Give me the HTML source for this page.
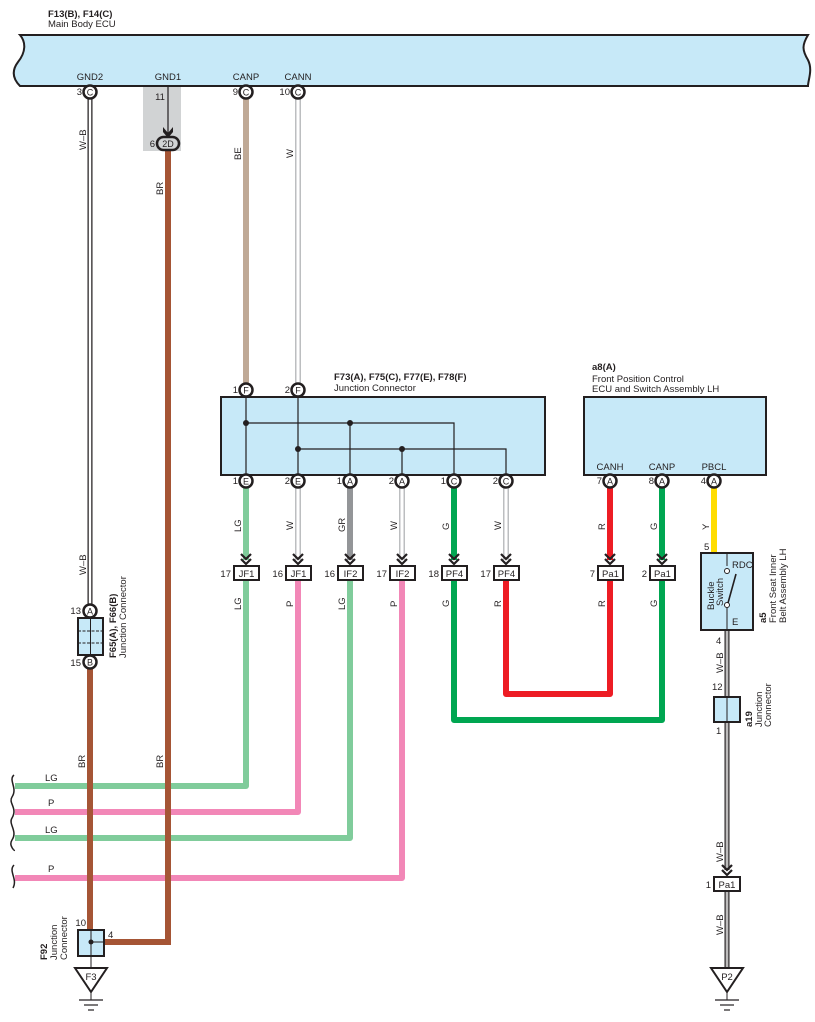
<!DOCTYPE html>
<html><head><meta charset="utf-8"><style>
body{margin:0;background:#fff}
svg{display:block;font-family:"Liberation Sans",Arial,sans-serif}
text{fill:#231f20}
.t{font-size:9.5px}
.b{font-size:9.5px;font-weight:bold}
</style></head><body>
<svg width="815" height="1022" viewBox="0 0 815 1022" xmlns="http://www.w3.org/2000/svg">
<defs>
<g id="chev"><path d="M-5,-9 L0,-4 L5,-9 M-5,-4 L0,1 L5,-4" fill="none" stroke="#231f20" stroke-width="2.2"/></g>
<g id="gnd"><path d="M-16,0 L16,0 L0,24 Z" fill="#fff" stroke="#231f20" stroke-width="2"/><line x1="0" y1="24" x2="0" y2="32" stroke="#231f20"/><line x1="-12" y1="32" x2="12" y2="32" stroke="#231f20" stroke-width="1.2"/><line x1="-7" y1="37" x2="7" y2="37" stroke="#231f20" stroke-width="1.2"/><line x1="-3" y1="42" x2="3" y2="42" stroke="#231f20" stroke-width="1.2"/></g>
</defs>

<text x="48" y="17" class="b">F13(B), F14(C)</text>
<text x="48" y="27" class="t">Main Body ECU</text>

<path d="M20,35 L808,35 C802,45 802,50 808,60 C813,70 808,80 808,86 L20,86 C12,78 12,70 18,62 C26,52 26,42 20,35 Z" fill="#c7e9f8" stroke="#231f20" stroke-width="2"/>
<text x="90" y="80" class="t" text-anchor="middle">GND2</text>
<text x="168" y="80" class="t" text-anchor="middle">GND1</text>
<text x="246" y="80" class="t" text-anchor="middle">CANP</text>
<text x="298" y="80" class="t" text-anchor="middle">CANN</text>

<rect x="143" y="87" width="38" height="64" fill="#d1d3d4"/>
<text x="160" y="100" class="t" text-anchor="middle">11</text>
<line x1="168" y1="87" x2="168" y2="135" stroke="#231f20" stroke-width="1.2"/>
<path d="M163,127 L168,133 L173,127 L173,132 L168,138 L163,132 Z" fill="#231f20"/>

<line x1="90" y1="98" x2="90" y2="604" stroke="#231f20" stroke-width="5"/>
<line x1="90" y1="98" x2="90" y2="604" stroke="#fff" stroke-width="2.5"/>
<text transform="translate(86,150) rotate(-90)" class="t">W–B</text>
<text transform="translate(86,575) rotate(-90)" class="t">W–B</text>
<path d="M168,151 L168,942 L104,942" fill="none" stroke="#a55535" stroke-width="6"/>
<text transform="translate(163,195) rotate(-90)" class="t">BR</text>
<text transform="translate(163,768) rotate(-90)" class="t">BR</text>
<line x1="246" y1="98" x2="246" y2="384" stroke="#bfa996" stroke-width="6"/>
<text transform="translate(241,160) rotate(-90)" class="t">BE</text>
<line x1="298" y1="98" x2="298" y2="384" stroke="#bcbec0" stroke-width="6"/>
<line x1="298" y1="98" x2="298" y2="384" stroke="#fff" stroke-width="3"/>
<text transform="translate(293,158) rotate(-90)" class="t">W</text>

<text x="334" y="380" class="b">F73(A), F75(C), F77(E), F78(F)</text>
<text x="334" y="391" class="t">Junction Connector</text>
<rect x="221" y="397" width="324" height="78" fill="#c7e9f8" stroke="#231f20" stroke-width="2"/>
<g stroke="#231f20" stroke-width="1.2" fill="none">
<path d="M246,397 L246,475 M246,423 L454,423 L454,475 M350,423 L350,475"/>
<path d="M298,397 L298,475 M298,449 L506,449 L506,475 M402,449 L402,475"/>
</g>
<g fill="#231f20"><circle cx="246" cy="423" r="3"/><circle cx="350" cy="423" r="3"/><circle cx="298" cy="449" r="3"/><circle cx="402" cy="449" r="3"/></g>

<line x1="246" y1="487" x2="246" y2="560" stroke="#80cc9b" stroke-width="6"/>
<line x1="298" y1="487" x2="298" y2="560" stroke="#bcbec0" stroke-width="6"/><line x1="298" y1="487" x2="298" y2="560" stroke="#fff" stroke-width="3"/>
<line x1="350" y1="487" x2="350" y2="560" stroke="#939598" stroke-width="6"/>
<line x1="402" y1="487" x2="402" y2="560" stroke="#bcbec0" stroke-width="6"/><line x1="402" y1="487" x2="402" y2="560" stroke="#fff" stroke-width="3"/>
<line x1="454" y1="487" x2="454" y2="560" stroke="#00a651" stroke-width="6"/>
<line x1="506" y1="487" x2="506" y2="560" stroke="#bcbec0" stroke-width="6"/><line x1="506" y1="487" x2="506" y2="560" stroke="#fff" stroke-width="3"/>
<text transform="translate(241,532) rotate(-90)" class="t">LG</text>
<text transform="translate(293,530) rotate(-90)" class="t">W</text>
<text transform="translate(345,532) rotate(-90)" class="t">GR</text>
<text transform="translate(397,530) rotate(-90)" class="t">W</text>
<text transform="translate(449,530) rotate(-90)" class="t">G</text>
<text transform="translate(501,530) rotate(-90)" class="t">W</text>

<g fill="none" stroke-width="6" stroke-linejoin="round">
<path d="M246,580 L246,786 L15,786" stroke="#80cc9b"/>
<path d="M298,580 L298,812 L15,812" stroke="#f287b7"/>
<path d="M350,580 L350,838 L15,838" stroke="#80cc9b"/>
<path d="M402,580 L402,878 L15,878" stroke="#f287b7"/>
<path d="M454,580 L454,720 L662,720 L662,580" stroke="#00a651"/>
<path d="M506,580 L506,694 L610,694 L610,580" stroke="#ed1c24"/>
<path d="M610,487 L610,560" stroke="#ed1c24"/>
<path d="M662,487 L662,560" stroke="#00a651"/>
<path d="M714,487 L714,553" stroke="#ffdd00"/>
</g>
<line x1="90" y1="668" x2="90" y2="930" stroke="#a55535" stroke-width="6"/>
<line x1="168" y1="700" x2="168" y2="942" stroke="#a55535" stroke-width="6"/>
<text transform="translate(85,768) rotate(-90)" class="t">BR</text>

<text transform="translate(241,610) rotate(-90)" class="t">LG</text>
<text transform="translate(293,607) rotate(-90)" class="t">P</text>
<text transform="translate(345,610) rotate(-90)" class="t">LG</text>
<text transform="translate(397,607) rotate(-90)" class="t">P</text>
<text transform="translate(449,607) rotate(-90)" class="t">G</text>
<text transform="translate(501,607) rotate(-90)" class="t">R</text>
<text transform="translate(605,607) rotate(-90)" class="t">R</text>
<text transform="translate(657,607) rotate(-90)" class="t">G</text>
<text transform="translate(605,530) rotate(-90)" class="t">R</text>
<text transform="translate(657,530) rotate(-90)" class="t">G</text>
<text transform="translate(709,530) rotate(-90)" class="t">Y</text>

<g fill="none" stroke="#231f20" stroke-width="1.5">
<path d="M14,775 C8,780 18,788 12,797 C8,803 18,808 12,818 C8,824 18,831 12,840 C8,846 16,852 14,850"/>
<path d="M14,865 C8,871 18,879 13,888"/>
</g>
<text x="45" y="781" class="t">LG</text>
<text x="48" y="806" class="t">P</text>
<text x="45" y="833" class="t">LG</text>
<text x="48" y="872" class="t">P</text>

<!-- right W-B wire (under tags) -->
<g>
<line x1="727" y1="630" x2="727" y2="870" stroke="#231f20" stroke-width="5"/>
<line x1="727" y1="630" x2="727" y2="870" stroke="#fff" stroke-width="2.5"/>
<line x1="727" y1="630" x2="727" y2="870" stroke="#231f20" stroke-width="0.6"/>
<line x1="727" y1="891" x2="727" y2="968" stroke="#231f20" stroke-width="5"/>
<line x1="727" y1="891" x2="727" y2="968" stroke="#fff" stroke-width="2.5"/>
<line x1="727" y1="891" x2="727" y2="968" stroke="#231f20" stroke-width="0.6"/>
</g>

<use href="#chev" x="246" y="563"/><use href="#chev" x="298" y="563"/><use href="#chev" x="350" y="563"/>
<use href="#chev" x="402" y="563"/><use href="#chev" x="454" y="563"/><use href="#chev" x="506" y="563"/>
<use href="#chev" x="610" y="563"/><use href="#chev" x="662" y="563"/><use href="#chev" x="727" y="874"/>

<g stroke="#231f20" stroke-width="2" fill="#fff">
<rect x="234" y="566" width="25" height="14"/><rect x="286" y="566" width="25" height="14"/>
<rect x="338" y="566" width="25" height="14"/><rect x="390" y="566" width="25" height="14"/>
<rect x="442" y="566" width="25" height="14"/><rect x="494" y="566" width="25" height="14"/>
<rect x="598" y="566" width="25" height="14"/><rect x="650" y="566" width="25" height="14"/>
<rect x="714" y="877" width="26" height="14"/>
</g>
<g text-anchor="middle">
<text x="246.5" y="577" class="t">JF1</text><text x="298.5" y="577" class="t">JF1</text>
<text x="350.5" y="577" class="t">IF2</text><text x="402.5" y="577" class="t">IF2</text>
<text x="454.5" y="577" class="t">PF4</text><text x="506.5" y="577" class="t">PF4</text>
<text x="610.5" y="577" class="t">Pa1</text><text x="662.5" y="577" class="t">Pa1</text>
<text x="727" y="888" class="t">Pa1</text>
</g>
<g text-anchor="end">
<text x="231" y="577" class="t">17</text><text x="283" y="577" class="t">16</text>
<text x="335" y="577" class="t">16</text><text x="387" y="577" class="t">17</text>
<text x="439" y="577" class="t">18</text><text x="491" y="577" class="t">17</text>
<text x="595" y="577" class="t">7</text><text x="647" y="577" class="t">2</text>
<text x="711" y="888" class="t">1</text>
</g>

<text x="592" y="370" class="b">a8(A)</text>
<text x="592" y="382" class="t">Front Position Control</text>
<text x="592" y="392" class="t">ECU and Switch Assembly LH</text>
<rect x="584" y="397" width="182" height="78" fill="#c7e9f8" stroke="#231f20" stroke-width="2"/>
<text x="610" y="470" class="t" text-anchor="middle">CANH</text>
<text x="662" y="470" class="t" text-anchor="middle">CANP</text>
<text x="714" y="470" class="t" text-anchor="middle">PBCL</text>

<text x="704" y="550" class="t">5</text>
<rect x="701" y="553" width="52" height="77" fill="#c7e9f8" stroke="#231f20" stroke-width="2"/>
<line x1="727" y1="553" x2="727" y2="566" stroke="#231f20"/>
<line x1="727" y1="608" x2="727" y2="630" stroke="#231f20"/>
<circle cx="727" cy="571" r="2.5" fill="#fff" stroke="#231f20"/>
<circle cx="727" cy="605" r="2.5" fill="#fff" stroke="#231f20"/>
<line x1="728" y1="603" x2="736" y2="574" stroke="#231f20" stroke-width="1.6"/>
<text x="732" y="568" class="t">RDC</text>
<text x="732" y="625" class="t">E</text>
<text transform="translate(714,610) rotate(-90)" class="t">Buckle</text>
<text transform="translate(723,606) rotate(-90)" class="t">Switch</text>
<text transform="translate(766,623) rotate(-90)" class="b">a5</text>
<text transform="translate(776,623) rotate(-90)" class="t">Front Seat Inner</text>
<text transform="translate(786,623) rotate(-90)" class="t">Belt Assembly LH</text>

<text x="716" y="644" class="t">4</text>
<text transform="translate(723,673) rotate(-90)" class="t">W–B</text>
<text x="712" y="690" class="t">12</text>
<rect x="714" y="697" width="26" height="25" fill="#c7e9f8" stroke="#231f20" stroke-width="2"/>
<line x1="727" y1="697" x2="727" y2="722" stroke="#231f20"/>
<text x="716" y="734" class="t">1</text>
<text transform="translate(752,727) rotate(-90)" class="b">a19</text>
<text transform="translate(762,727) rotate(-90)" class="t">Junction</text>
<text transform="translate(771,727) rotate(-90)" class="t">Connector</text>
<text transform="translate(723,862) rotate(-90)" class="t">W–B</text>
<text transform="translate(723,935) rotate(-90)" class="t">W–B</text>
<use href="#gnd" x="727" y="968"/>
<text x="727" y="980" class="t" text-anchor="middle">P2</text>

<rect x="78" y="618" width="25" height="37" fill="#c7e9f8" stroke="#231f20" stroke-width="2"/>
<line x1="90.5" y1="618" x2="90.5" y2="655" stroke="#231f20"/>
<line x1="78" y1="631" x2="103" y2="631" stroke="#231f20" stroke-dasharray="3,1.5"/>
<line x1="78" y1="643" x2="103" y2="643" stroke="#231f20" stroke-dasharray="3,1.5"/>
<text transform="translate(116,658) rotate(-90)" class="b">F65(A), F66(B)</text>
<text transform="translate(126,658) rotate(-90)" class="t">Junction Connector</text>
<text x="81" y="614" class="t" text-anchor="end">13</text>
<text x="81" y="666" class="t" text-anchor="end">15</text>

<text x="86" y="926" class="t" text-anchor="end">10</text>
<rect x="78" y="930" width="26" height="26" fill="#c7e9f8" stroke="#231f20" stroke-width="2"/>
<line x1="91" y1="930" x2="91" y2="956" stroke="#231f20"/><line x1="91" y1="942" x2="104" y2="942" stroke="#231f20"/>
<circle cx="91" cy="942" r="2.5" fill="#231f20"/>
<text x="108" y="938" class="t">4</text>
<line x1="91" y1="956" x2="91" y2="968" stroke="#231f20"/>
<text transform="translate(47,960) rotate(-90)" class="b">F92</text>
<text transform="translate(57,960) rotate(-90)" class="t">Junction</text>
<text transform="translate(67,960) rotate(-90)" class="t">Connector</text>
<use href="#gnd" x="91" y="968"/>
<text x="91" y="980" class="t" text-anchor="middle">F3</text>

<g stroke="#231f20" stroke-width="2.5" fill="#fff">
<circle cx="90" cy="92" r="6.5"/><circle cx="246" cy="92" r="6.5"/><circle cx="298" cy="92" r="6.5"/>
<circle cx="246" cy="390" r="6.5"/><circle cx="298" cy="390" r="6.5"/>
<circle cx="246" cy="481" r="6.5"/><circle cx="298" cy="481" r="6.5"/><circle cx="350" cy="481" r="6.5"/>
<circle cx="402" cy="481" r="6.5"/><circle cx="454" cy="481" r="6.5"/><circle cx="506" cy="481" r="6.5"/>
<circle cx="610" cy="481" r="6.5"/><circle cx="662" cy="481" r="6.5"/><circle cx="714" cy="481" r="6.5"/>
<circle cx="90" cy="611" r="6.5"/><circle cx="90" cy="662" r="6.5"/>
<rect x="157" y="137" width="22" height="13" rx="6.5" fill="#d1d3d4"/>
</g>
<g font-size="9" text-anchor="middle">
<text x="90" y="95.5">C</text><text x="246" y="95.5">C</text><text x="298" y="95.5">C</text>
<text x="246" y="393.5">F</text><text x="298" y="393.5">F</text>
<text x="246" y="484.5">E</text><text x="298" y="484.5">E</text><text x="350" y="484.5">A</text>
<text x="402" y="484.5">A</text><text x="454" y="484.5">C</text><text x="506" y="484.5">C</text>
<text x="610" y="484.5">A</text><text x="662" y="484.5">A</text><text x="714" y="484.5">A</text>
<text x="90" y="614.5">A</text><text x="90" y="665.5">B</text>
<text x="168" y="147">2D</text>
</g>
<g text-anchor="end">
<text x="82" y="95" class="t">3</text><text x="238" y="95" class="t">9</text><text x="290" y="95" class="t">10</text>
<text x="155" y="147" class="t">6</text>
<text x="238" y="393" class="t">1</text><text x="290" y="393" class="t">2</text>
<text x="238" y="484" class="t">1</text><text x="290" y="484" class="t">2</text><text x="342" y="484" class="t">1</text>
<text x="394" y="484" class="t">2</text><text x="446" y="484" class="t">1</text><text x="498" y="484" class="t">2</text>
<text x="602" y="484" class="t">7</text><text x="654" y="484" class="t">8</text><text x="706" y="484" class="t">4</text>
</g>
</svg>
</body></html>
